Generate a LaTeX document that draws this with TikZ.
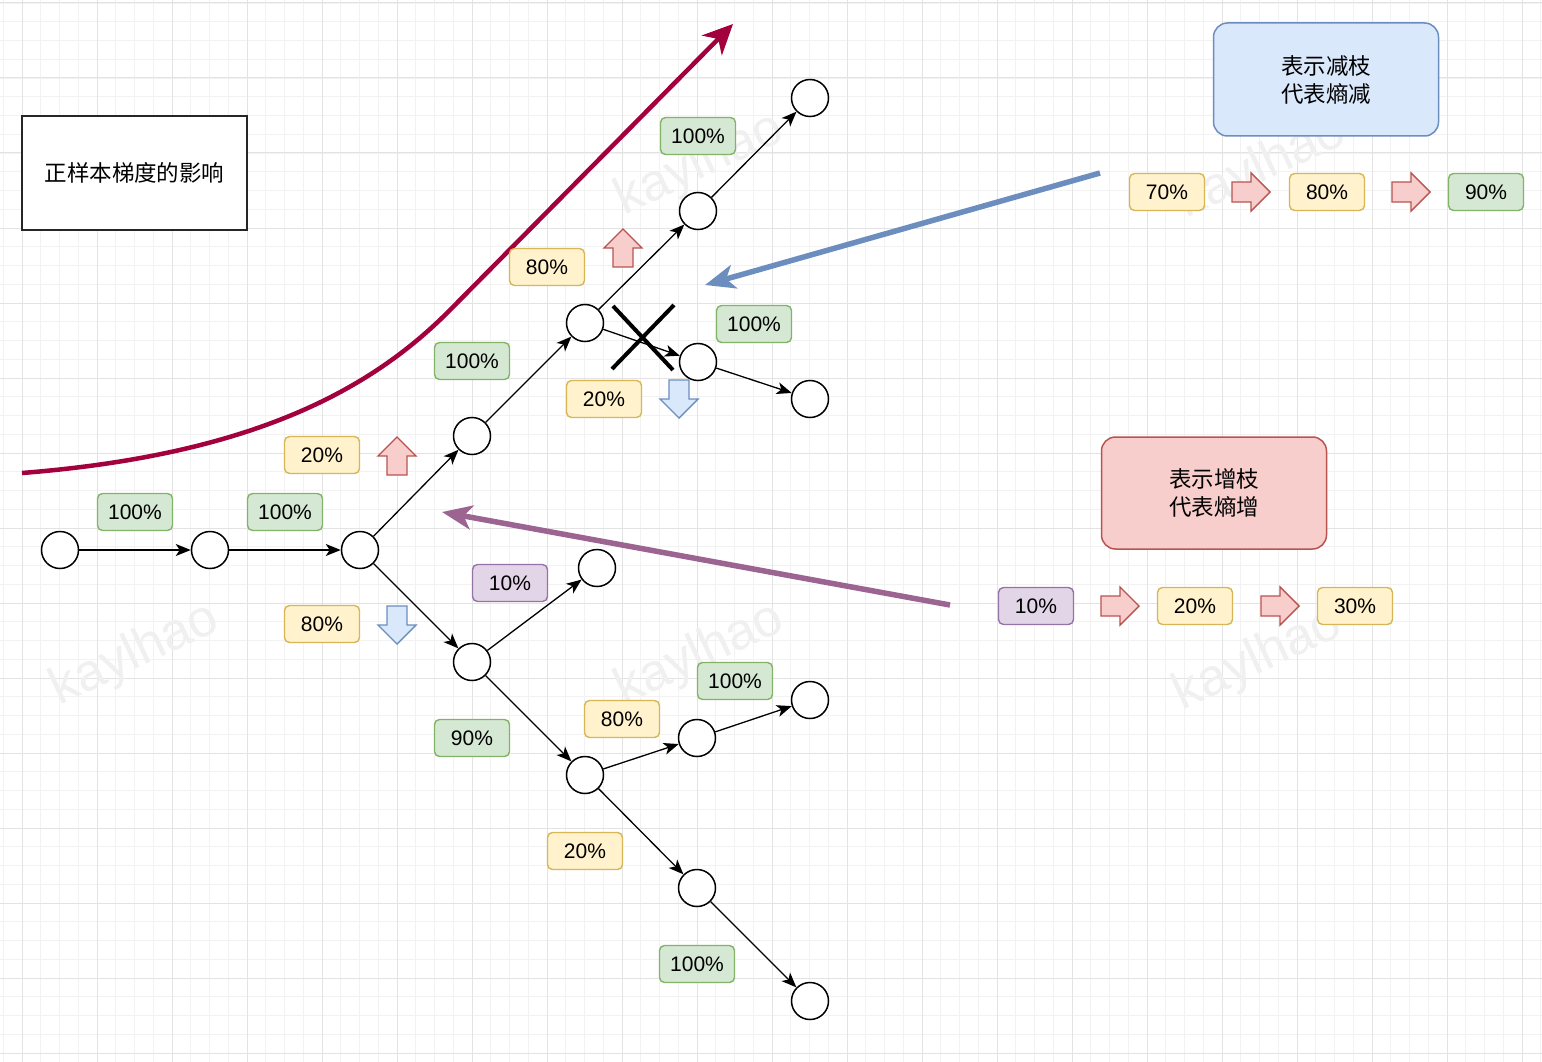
\documentclass[tikz,border=0pt]{standalone}
\usepackage{fontspec}
\setmainfont{Liberation Sans}
\newfontfamily\cjk{Noto Sans CJK SC}
\usetikzlibrary{arrows.meta}
\definecolor{gfill}{HTML}{D5E8D4}\definecolor{gline}{HTML}{82B366}
\definecolor{yfill}{HTML}{FFF2CC}\definecolor{yline}{HTML}{D6B656}
\definecolor{pfill}{HTML}{E1D5E7}\definecolor{pline}{HTML}{9673A6}
\definecolor{rfill}{HTML}{F8CECC}\definecolor{rline}{HTML}{B85450}
\definecolor{bfill}{HTML}{DAE8FC}\definecolor{bline}{HTML}{6C8EBF}
\definecolor{crimsonc}{RGB}{163,0,62}
\definecolor{purplec}{RGB}{155,100,145}
\definecolor{minorg}{HTML}{F2F2F2}
\definecolor{majorg}{HTML}{E3E3E3}
\begin{document}
\begin{tikzpicture}[x=1pt,y=-1pt,
  minorgrid/.style={draw=minorg, line width=0.8pt},
  majorgrid/.style={draw=majorg, line width=1pt},
  circ/.style={circle, draw=black, line width=1.5pt, fill=white, minimum size=37pt, inner sep=0pt},
  lbl/.style={rounded corners=5pt, line width=1.4pt, minimum width=75pt, minimum height=37pt, inner sep=0pt, font=\fontsize{21}{25}\selectfont},
  lblG/.style={lbl, fill=gfill, draw=gline},
  lblY/.style={lbl, fill=yfill, draw=yline},
  lblP/.style={lbl, fill=pfill, draw=pline},
  edge/.style={-{Stealth[length=15pt,width=12pt,inset=4pt]}, line width=1.3pt, draw=black},
  redarrow/.style={fill=rfill, draw=rline, line width=1.4pt},
  bluearrow/.style={fill=bfill, draw=bline, line width=1.4pt},
  wm/.style={text=black!6, font=\fontsize{52}{56}\selectfont, rotate=25},
  barrow/.pic={\path[pic actions] (19,0) -- (0,19) -- (0,10) -- (-19,10) -- (-19,-10) -- (0,-10) -- (0,-19) -- cycle;}
]
\useasboundingbox (0,0) rectangle (1542,1062);
\fill[white] (0,0) rectangle (1542,1062);
% grid
\foreach \i in {0,...,82} \draw[minorgrid] ({3.25+\i*18.75},0) -- ++(0,1062);
\foreach \j in {0,...,56} \draw[minorgrid] (0,{3+\j*18.75}) -- ++(1542,0);
\foreach \i in {0,...,20} \draw[majorgrid] ({22+\i*75},0) -- ++(0,1062);
\foreach \j in {0,...,14} \draw[majorgrid] (0,{3+\j*75}) -- ++(1542,0);
% watermarks
\node[wm] (w1) at (135,172) {kaylhao};
\node[wm] (w2) at (700,165) {kaylhao};
\node[wm] (w3) at (1262,168) {kaylhao};
\node[wm] (w4) at (135,655) {kaylhao};
\node[wm] (w5) at (700,655) {kaylhao};
\node[wm] (w6) at (1258,660) {kaylhao};

% title box
\node[draw=black!85, line width=2pt, fill=white, minimum width=225pt, minimum height=113pt, inner sep=0pt, font=\cjk\fontsize{22.5}{27}\selectfont] (title) at (134.5,173) {正样本梯度的影响};

% legend boxes
\node[draw=bline, fill=bfill, line width=1.5pt, rounded corners=14pt, minimum width=225pt, minimum height=113pt, align=center, font=\cjk\fontsize{22.5}{28}\selectfont] (lb) at (1326,79.5) {表示减枝\\代表熵减};
\node[draw=rline, fill=rfill, line width=1.5pt, rounded corners=14pt, minimum width=225pt, minimum height=112pt, align=center, font=\cjk\fontsize{22.5}{28}\selectfont] (lr) at (1214,493) {表示增枝\\代表熵增};

% big arrows
\coordinate (cs) at (22,473);
\coordinate (ce) at (733,24);
\draw[crimsonc, line width=4.5pt, -{Stealth[length=30pt,width=28pt,inset=9pt]}] (cs) .. controls (250,455) and (370,391) .. (450,310) -- (ce);
\coordinate (bs) at (1100,173);
\coordinate (be) at (705,285);
\draw[bline, line width=5.5pt, -{Stealth[length=30pt,width=24pt,inset=8pt]}] (bs) -- (be);
\coordinate (ps) at (950,605);
\coordinate (pe) at (442,512);
\draw[purplec, line width=5.5pt, -{Stealth[length=30pt,width=24pt,inset=8pt]}] (ps) -- (pe);

% tree nodes
\node[circ] (n1) at (60,550) {};
\node[circ] (n2) at (210,550) {};
\node[circ] (n3) at (360,550) {};
\node[circ] (n4) at (472,436) {};
\node[circ] (n5) at (585,323) {};
\node[circ] (n6) at (698,211) {};
\node[circ] (n7) at (810,98) {};
\node[circ] (n8) at (698,362) {};
\node[circ] (n9) at (810,399) {};
\node[circ] (n10) at (472,662) {};
\node[circ] (n11) at (597,568) {};
\node[circ] (n12) at (585,775) {};
\node[circ] (n13) at (697,738) {};
\node[circ] (n14) at (810,700) {};
\node[circ] (n15) at (697,888) {};
\node[circ] (n16) at (810,1001) {};

% edges
\draw[edge] (n1) -- (n2);
\draw[edge] (n2) -- (n3);
\draw[edge] (n3) -- (n4);
\draw[edge] (n4) -- (n5);
\draw[edge] (n5) -- (n6);
\draw[edge] (n6) -- (n7);
\draw[edge] (n5) -- (n8);
\draw[edge] (n8) -- (n9);
\draw[edge] (n3) -- (n10);
\draw[edge] (n10) -- (n11);
\draw[edge] (n10) -- (n12);
\draw[edge] (n12) -- (n13);
\draw[edge] (n13) -- (n14);
\draw[edge] (n12) -- (n15);
\draw[edge] (n15) -- (n16);

% cross
\draw[black, line width=4pt] (612,369) -- (674,305);
\draw[black, line width=4pt] (613,306) -- (673,370);

% labels
\node[lblG] (l1) at (135,512) {100\%};
\node[lblG] (l2) at (285,512) {100\%};
\node[lblY] (l3) at (322,455) {20\%};
\node[lblY] (l4) at (322,624) {80\%};
\node[lblG] (l5) at (472,361) {100\%};
\node[lblY] (l6) at (547,267) {80\%};
\node[lblG] (l7) at (698,136) {100\%};
\node[lblG] (l8) at (754,324) {100\%};
\node[lblY] (l9) at (604,399) {20\%};
\node[lblP] (l10) at (510,583) {10\%};
\node[lblG] (l11) at (472,738) {90\%};
\node[lblY] (l12) at (622,719) {80\%};
\node[lblG] (l13) at (735,681) {100\%};
\node[lblY] (l14) at (585,851) {20\%};
\node[lblG] (l15) at (697,964) {100\%};

\node[lblY] (r1) at (1167,192) {70\%};
\node[lblY] (r2) at (1327,192) {80\%};
\node[lblG] (r3) at (1486,192) {90\%};
\node[lblP] (s1) at (1036,606) {10\%};
\node[lblY] (s2) at (1195,606) {20\%};
\node[lblY] (s3) at (1355,606) {30\%};

% block arrows
\pic[redarrow, rotate=90] at (397,456) {barrow};
\pic[redarrow, rotate=90] at (623,248) {barrow};
\pic[bluearrow, rotate=-90] at (397,625) {barrow};
\pic[bluearrow, rotate=-90] at (679,399) {barrow};
\pic[redarrow] at (1251,192) {barrow};
\pic[redarrow] at (1411,192) {barrow};
\pic[redarrow] at (1120,606) {barrow};
\pic[redarrow] at (1280,606) {barrow};
\end{tikzpicture}
\end{document}
